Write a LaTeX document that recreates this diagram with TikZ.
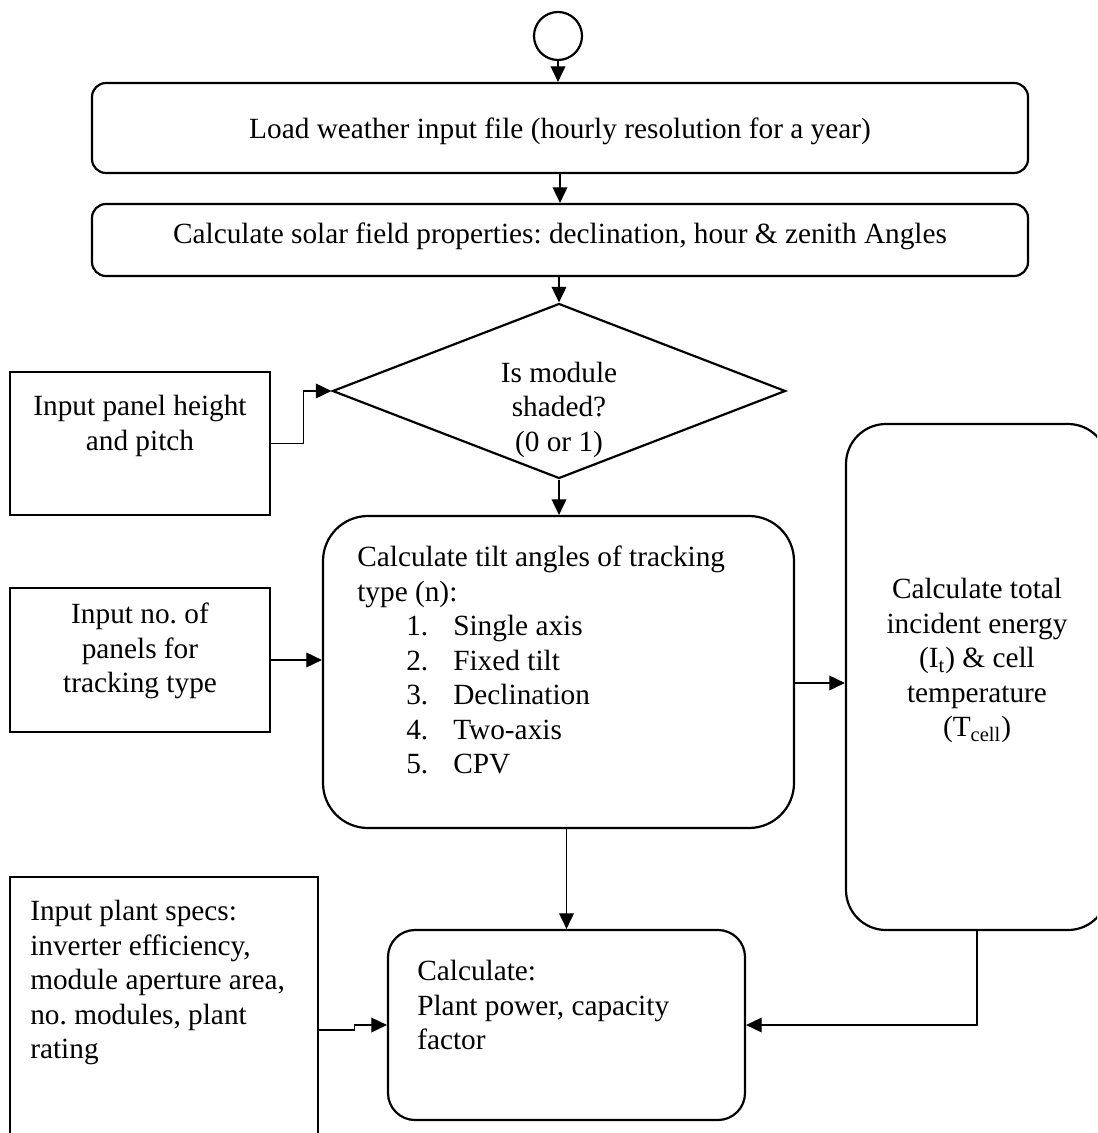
\documentclass[tikz,border=0pt]{standalone}
\usepackage{fontspec}
\setmainfont{Liberation Serif}
\usetikzlibrary{arrows.meta,shapes.geometric,calc}
\newlength\px
\setlength\px{0.5pt}
\frenchspacing
\begin{document}
\begin{tikzpicture}[x=0.5pt,y=-0.5pt,
  every node/.style={font=\fontsize{14.65pt}{17.25pt}\selectfont},
  frame/.style={draw,line width=1.1pt,inner sep=0pt},
  txt/.style={inner sep=0pt,anchor=base},
  arr/.style={line width=0.6pt,-{Triangle[length=7.8pt,width=7.4pt]}}]
\path[use as bounding box] (0,0) rectangle (1097,1133);
\clip (0,0) rectangle (1097,1133);

% start symbol and the two top process boxes
\node[frame,circle,minimum size=48\px] (start) at (558,36) {};
\node[frame,minimum width=936\px,minimum height=90\px,rounded corners=14\px] (box1) at (560,128) {};
\node[frame,minimum width=936\px,minimum height=72\px,rounded corners=14\px] (box2) at (560,240) {};

% shading decision
\node[frame,diamond,minimum width=453\px,minimum height=175\px] (dia) at (559,391) {};

% input boxes on the left
\node[frame,minimum width=260\px,minimum height=143\px] (in1) at (140,443.5) {};
\node[frame,minimum width=260\px,minimum height=144\px] (in2) at (140,660) {};
\node[frame,minimum width=308\px,minimum height=273\px] (in3) at (164,1013.5) {};

% main calculation boxes
\node[frame,minimum width=471\px,minimum height=312\px,rounded corners=45\px] (tilt) at (558.5,672) {};
\node[frame,minimum width=262\px,minimum height=506\px,rounded corners=40\px] (tall) at (977,677) {};
\node[frame,minimum width=357\px,minimum height=190\px,rounded corners=27\px] (bot) at (566.5,1025) {};

% texts
\node[txt] (t1) at ($(box1.north)+(0,57)$) {Load weather input file (hourly resolution for a year)};
\node[txt] (t2) at ($(box2.north)+(0,41)$) {Calculate solar field properties: declination, hour \& zenith Angles};
\node[txt] (tdia) at ($(dia.north)+(0,80)$) {\begin{tabular}[t]{@{}c@{}}Is module\\shaded?\\(0 or 1)\end{tabular}};
\node[txt] (tin1) at ($(in1.north)+(0,45)$) {\begin{tabular}[t]{@{}c@{}}Input panel height\\and pitch\end{tabular}};
\node[txt] (tin2) at ($(in2.north)+(0,37)$) {\begin{tabular}[t]{@{}c@{}}Input no. of\\panels for\\tracking type\end{tabular}};
\node[txt,anchor=base west] (tin3) at ($(in3.north west)+(21,45)$) {\begin{tabular}[t]{@{}l@{}}Input plant specs:\\inverter efficiency,\\module aperture area,\\no. modules, plant\\rating\end{tabular}};
\node[txt,anchor=base west] (ttilt) at ($(tilt.north west)+(35,52)$) {\begin{tabular}[t]{@{}l@{}}Calculate tilt angles of tracking\\type (n):\\
  \hspace*{49\px}\makebox[47\px][l]{1.}Single axis\\
  \hspace*{49\px}\makebox[47\px][l]{2.}Fixed tilt\\
  \hspace*{49\px}\makebox[47\px][l]{3.}Declination\\
  \hspace*{49\px}\makebox[47\px][l]{4.}Two-axis\\
  \hspace*{49\px}\makebox[47\px][l]{5.}CPV\end{tabular}};
\node[txt] (ttall) at ($(tall.north)+(0,176)$) {\begin{tabular}[t]{@{}c@{}}Calculate total\\incident energy\\(I\textsubscript{t}) \& cell\\temperature\\(T\textsubscript{cell})\end{tabular}};
\node[txt,anchor=base west] (tbot) at ($(bot.north west)+(30,52)$) {\begin{tabular}[t]{@{}l@{}}Calculate:\\Plant power, capacity\\factor\end{tabular}};

% connectors
\draw[arr] (start.south) -- (start.south |- box1.north);
\draw[arr] (box1.south) -- (box2.north);
\draw[arr] (dia.north |- box2.south) -- (dia.north);
\draw[arr] (dia.south) -- (dia.south |- tilt.north);
\draw[arr] (in1.east) -- ++(16pt,0) |- (dia.west);
\draw[arr] (in2.east) -- (in2.east -| tilt.west);
\draw[arr] ([yshift=-3pt]tall.west -| tilt.east) -- ([yshift=-3pt]tall.west);
\draw[arr] (bot.north |- tilt.south) -- (bot.north);
\draw[arr] (tall.south) |- (bot.east);
\draw[arr] ([yshift=-8.25pt]in3.east) -- ++(17.5pt,0) |- (bot.west);
\end{tikzpicture}
\end{document}
